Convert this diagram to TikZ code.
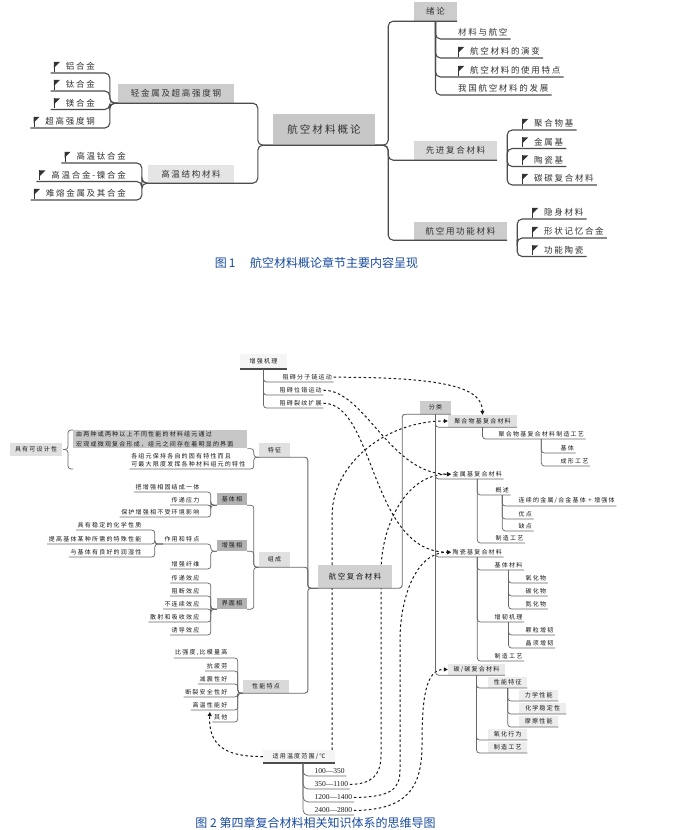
\documentclass[tikz,border=0pt]{standalone}
\usepackage{fontspec}
\setmainfont{Liberation Serif}
\newfontfamily\cjk[LetterSpace=20]{Noto Sans CJK SC}
\newfontfamily\cjkplain{Noto Sans CJK SC}
\usetikzlibrary{arrows.meta,backgrounds}
\definecolor{capblue}{RGB}{25,75,160}

\tikzset{
  flagged/.style={execute at begin node={\hspace*{12pt}},
    path picture={
      \fill[black!80] ([xshift=3pt,yshift=-2pt]path picture bounding box.north west) -- ++(6pt,0) -- ++(-6pt,-6pt) -- cycle;
      \draw[black!80, line width=1pt] ([xshift=3.5pt,yshift=-2pt]path picture bounding box.north west) -- ++(0,-10pt);
    }},
  darkfoot/.style={path picture={
      \draw[black!70, line width=3pt] (path picture bounding box.south west) -- (path picture bounding box.south east);
    }},
}

\begin{document}
\begin{tikzpicture}[x=1pt, y=-1pt,
  lineA/.style={draw=black!70, line width=1.1pt, rounded corners=5pt},
  lineB/.style={draw=black!60, line width=0.7pt, rounded corners=3pt},
  boxA/.style={fill=black!20, text=black!80, inner sep=0pt, font=\cjk\fontsize{8.5}{10}\selectfont},
  leafA/.style={text=black!80, inner xsep=3pt, inner ysep=2.5pt, font=\cjk\fontsize{8.5}{10}\selectfont},
  boxB/.style={fill=black!12, text=black!90, inner sep=0pt, font=\cjk\fontsize{6}{7}\selectfont},
  leafB/.style={text=black!90, inner xsep=1.5pt, inner ysep=1.8pt, font=\cjk\fontsize{6}{7}\selectfont},
  boxC/.style={fill=black!7, text=black!90, anchor=south west, minimum height=11pt, inner sep=0pt, font=\cjk\fontsize{6}{7}\selectfont},
  leafT/.style={text=black!90, inner xsep=1.5pt, inner ysep=1.8pt, font=\fontsize{7.5}{8}\selectfont},
  dashB/.style={black!90, line width=1pt, dash pattern=on 2.5pt off 2.5pt},
  tipB/.style={-{Triangle[length=4pt,width=4pt]}},
]
\useasboundingbox (0,0) rectangle (676,830);
\begin{scope}[on background layer]
\fill[white] (0,0) rectangle (676,830);
\end{scope}

% ---------- figure 1 ----------
\node[boxA, fill=black!22, minimum width=102pt, minimum height=31pt, font=\cjk\fontsize{10.5}{12}\selectfont] (hk) at (324,129.5) {航空材料概论};
\node[boxA, fill=black!20, minimum width=116pt, minimum height=19pt] (qj) at (176,93.5) {轻金属及超高强度钢};
\node[boxA, fill=black!10, minimum width=86pt, minimum height=18pt] (gw) at (191,174) {高温结构材料};
\node[boxA, fill=black!20, minimum width=43pt, minimum height=19pt] (xl) at (435.5,11.5) {绪论};
\node[boxA, fill=black!15, minimum width=83pt, minimum height=19pt] (xj) at (455.5,150.5) {先进复合材料};
\node[boxA, fill=black!20, minimum width=93pt, minimum height=18pt] (hy) at (460.5,231) {航空用功能材料};

\node[leafA, flagged, anchor=south east] (q1) at (98,73) {铝合金};
\node[leafA, flagged, anchor=south east] (q2) at (98,91) {钛合金};
\node[leafA, flagged, anchor=south east] (q3) at (98,109.5) {镁合金};
\node[leafA, flagged, anchor=south east] (q4) at (98,128) {超高强度钢};
\node[leafA, flagged, anchor=south east] (g1) at (129,163) {高温钛合金};
\node[leafA, flagged, anchor=south east] (g2) at (129,181.5) {高温合金-镍合金};
\node[leafA, flagged, anchor=south east] (g3) at (129,200) {难熔金属及其合金};

\node[leafA, anchor=south west] (xl1) at (455,39) {材料与航空};
\node[leafA, flagged, anchor=south west] (xl2) at (455,58) {航空材料的演变};
\node[leafA, flagged, anchor=south west] (xl3) at (455,77) {航空材料的使用特点};
\node[leafA, anchor=south west] (xl4) at (455,95) {我国航空材料的发展};
\node[leafA, flagged, anchor=south west] (xj1) at (519,130) {聚合物基};
\node[leafA, flagged, anchor=south west] (xj2) at (519,148.5) {金属基};
\node[leafA, flagged, anchor=south west] (xj3) at (519,166.5) {陶瓷基};
\node[leafA, flagged, anchor=south west] (xj4) at (519,185) {碳碳复合材料};
\node[leafA, flagged, anchor=south west] (hy1) at (529,219) {隐身材料};
\node[leafA, flagged, anchor=south west] (hy2) at (529,238) {形状记忆合金};
\node[leafA, flagged, anchor=south west] (hy3) at (529,256.5) {功能陶瓷};

\draw[lineA] (qj.south west) -- (qj.south east) -| ([xshift=-15pt]hk.south west) -- (hk.south west);
\draw[lineA] (gw.south west) -- (gw.south east) -| ([xshift=-15pt]hk.south west) -- (hk.south west);
\draw[lineA] (hk.south west) -- (hk.south east) -- ++(13pt,0) |- (xl.south east);
\draw[lineA] (hk.south east) -- ++(13pt,0) |- (xj.south east);
\draw[lineA] (hk.south east) -- ++(13pt,0) |- (hy.south east);
\foreach \c in {q1,q2,q3,q4}
  \draw[lineA] (qj.south west) -- ++(-8pt,0) |- (\c.south west);
\foreach \c in {g1,g2,g3}
  \draw[lineA] (gw.south west) -- ++(-6pt,0) |- (\c.south west);
\foreach \c in {xl1,xl2,xl3,xl4}
  \draw[lineA] (xl.south) |- (\c.south east);
\foreach \c in {xj1,xj2,xj3,xj4}
  \draw[lineA] ([xshift=10pt]xj.south east) |- (\c.south east);
\foreach \c in {hy1,hy2,hy3}
  \draw[lineA] ([xshift=10pt]hy.south east) |- (\c.south east);

\node[text=capblue, font=\cjkplain\fontsize{12}{14}\selectfont] (cap1) at (316.5,263) {图\,1\quad\ 航空材料概论章节主要内容呈现};

% ---------- figure 2 ----------
\node[boxB, fill=black!18, minimum width=74pt, minimum height=23pt, font=\cjk\fontsize{7.5}{9}\selectfont] (hf) at (355,576.5) {航空复合材料};
\node[boxB, fill=black!4, darkfoot, minimum width=47pt, minimum height=15pt] (zq) at (263.5,361.5) {增强机理};
\node[boxB, fill=black!20, minimum width=31pt, minimum height=13pt] (fl) at (435.5,407.5) {分类};
\node[boxB, minimum width=31pt, minimum height=14pt] (tz) at (274.5,450) {特征};
\node[boxB, minimum width=31pt, minimum height=15pt] (zc) at (274.5,559.5) {组成};
\node[boxB, fill=black!15, minimum width=46pt, minimum height=13pt] (xn) at (266,686.5) {性能特点};
\node[boxB, fill=black!4, darkfoot, minimum width=72pt, minimum height=13pt] (wd) at (299,756.5) {适用温度范围/℃};

% enhancement mechanism
\node[leafB, anchor=south west] (zq1) at (281,382) {阻碍分子链运动};
\node[leafB, anchor=south west] (zq2) at (278,395) {阻碍位错运动};
\node[leafB, anchor=south west] (zq3) at (278,408) {阻碍裂纹扩展};
\foreach \c in {zq1,zq2,zq3}
  \draw[lineB] (zq.south) |- (\c.south east);

% classification
\node[boxB, minimum width=69pt, minimum height=12pt] (jh) at (482.5,421) {聚合物基复合材料};
\node[leafB, anchor=south west] (jh1) at (497,439) {聚合物基复合材料制造工艺};
\node[leafB, anchor=south west] (jh11) at (559,453) {基体};
\node[leafB, anchor=south west] (jh12) at (559,466) {成形工艺};
\node[leafB, anchor=south west] (js) at (451,479) {金属基复合材料};
\node[leafB, anchor=south west] (js1) at (494,495) {概述};
\node[leafB, anchor=south west] (js11) at (517,506) {连续的金属/合金基体 + 增强体};
\node[leafB, anchor=south west] (js12) at (517,519) {优点};
\node[leafB, anchor=south west] (js13) at (517,531) {缺点};
\node[leafB, anchor=south west] (js2) at (494,543) {制造工艺};
\node[leafB, anchor=south west] (tc) at (451,557) {陶瓷基复合材料};
\node[leafB, anchor=south west] (tc1) at (493,570) {基体材料};
\node[leafB, anchor=south west] (tc11) at (524,583) {氧化物};
\node[leafB, anchor=south west] (tc12) at (524,596) {碳化物};
\node[leafB, anchor=south west] (tc13) at (524,609) {氮化物};
\node[leafB, anchor=south west] (tc2) at (493,622) {增韧机理};
\node[leafB, anchor=south west] (tc21) at (524,635) {颗粒增韧};
\node[leafB, anchor=south west] (tc22) at (524,648) {晶须增韧};
\node[leafB, anchor=south west] (tc3) at (493,661) {制造工艺};
\node[boxB, fill=black!9, minimum width=57pt, minimum height=11pt] (cc) at (476.5,669.5) {碳/碳复合材料};
\node[boxC, minimum width=39pt] (cc1) at (488,688) {性能特征};
\node[boxC, minimum width=39pt] (cc11) at (519,701) {力学性能};
\node[boxC, minimum width=47pt] (cc12) at (519,714) {化学稳定性};
\node[boxC, minimum width=39pt] (cc13) at (519,727) {摩擦性能};
\node[boxC, minimum width=39pt] (cc2) at (488,740) {氧化行为};
\node[boxC, minimum width=39pt] (cc3) at (488,753) {制造工艺};

\draw[black!45, line width=1.6pt] (fl.south) -- ([yshift=3pt]fl.south |- cc.south);
\foreach \c in {jh,js,tc,cc}
  \draw[lineB] (fl.south) |- (\c.south east);
\draw[lineB] (jh.south) |- (jh1.south east);
\foreach \c in {jh11,jh12}
  \draw[lineB] (jh1.south) |- (\c.south east);
\foreach \c in {js1,js2}
  \draw[lineB] (js.south) |- (\c.south east);
\foreach \c in {js11,js12,js13}
  \draw[lineB] (js1.south) |- (\c.south east);
\foreach \c in {tc1,tc2,tc3}
  \draw[lineB] (tc.south) |- (\c.south east);
\foreach \c in {tc11,tc12,tc13}
  \draw[lineB] (tc1.south) |- (\c.south east);
\foreach \c in {tc21,tc22}
  \draw[lineB] (tc2.south) |- (\c.south east);
\foreach \c in {cc1,cc2,cc3}
  \draw[lineB] (cc.south) |- (\c.south east);
\foreach \c in {cc11,cc12,cc13}
  \draw[lineB] (cc1.south) |- (\c.south east);

% features
\node[boxB, minimum width=52pt, minimum height=13pt] (jy) at (36,449.5) {具有可设计性};
\node[boxB, fill=black!22, anchor=north west, text width=168pt, align=left, inner xsep=3pt, inner ysep=1.5pt, font=\cjk\fontsize{6}{9.5}\selectfont] (tz1) at (73,430) {由两种或两种以上不同性能的材料组元通过\\宏观或微观复合形成，组元之间存在着明显的界面};
\node[leafB, anchor=south east, align=left, font=\cjk\fontsize{6}{8}\selectfont] (tz2) at (247,469) {各组元保持各自的固有特性而且\\可最大限度发挥各种材料组元的特性};
\draw[lineB] (tz.south west) -- ++(-5pt,0) |- (tz1.south east);
\draw[lineB] (tz.south west) -- ++(-5pt,0) |- (tz2.south west);
\draw[lineB] (tz1.north west) -- ++(-5pt,0) |- ([xshift=1pt]jy.east);
\draw[lineB] (tz1.west |- tz2.south) -- ++(-5pt,0) |- ([xshift=1pt]jy.east);

% composition
\node[boxB, fill=black!30, minimum width=30pt, minimum height=12pt] (jt) at (232,499) {基体相};
\node[boxB, fill=black!30, minimum width=30pt, minimum height=11pt] (zt) at (232,545.5) {增强相};
\node[boxB, fill=black!30, minimum width=30pt, minimum height=11pt] (jm) at (232,603.5) {界面相};
\node[leafB, anchor=south east] (jt1) at (201,492) {把增强相固结成一体};
\node[leafB, anchor=south east] (jt2) at (201,505) {传递应力};
\node[leafB, anchor=south east] (jt3) at (201,517) {保护增强相不受环境影响};
\node[leafB, anchor=south east] (zt1) at (201,544) {作用和特点};
\node[leafB, anchor=south east] (zt2) at (201,569) {增强纤维};
\node[leafB, anchor=south east] (z11) at (143,530) {具有稳定的化学性质};
\node[leafB, anchor=south east] (z12) at (143,544) {提高基体某种所需的特殊性能};
\node[leafB, anchor=south east] (z13) at (143,557) {与基体有良好的润湿性};
\node[leafB, anchor=south east] (jm1) at (201,583) {传递效应};
\node[leafB, anchor=south east] (jm2) at (201,596) {阻断效应};
\node[leafB, anchor=south east] (jm3) at (201,609) {不连续效应};
\node[leafB, anchor=south east] (jm4) at (201,622) {散射和吸收效应};
\node[leafB, anchor=south east] (jm5) at (201,635) {诱导效应};
\foreach \c in {jt,zt,jm}
  \draw[lineB] (zc.south west) -- ++(-5pt,0) |- (\c.south east);
\foreach \c in {jt1,jt2,jt3}
  \draw[lineB] (jt.south west) -- ++(-6pt,0) |- (\c.south west);
\foreach \c in {zt1,zt2}
  \draw[lineB] (zt.south west) -- ++(-6pt,0) |- (\c.south west);
\foreach \c in {z11,z12,z13}
  \draw[lineB] (zt1.south west) -- ++(-8pt,0) |- (\c.south west);
\foreach \c in {jm1,jm2,jm3,jm4,jm5}
  \draw[lineB] (jm.south west) -- ++(-6pt,0) |- (\c.south west);

% performance
\node[leafB, anchor=south east] (xn1) at (229,658) {比强度,比模量高};
\node[leafB, anchor=south east] (xn2) at (229,671) {抗疲劳};
\node[leafB, anchor=south east] (xn3) at (229,684) {减震性好};
\node[leafB, anchor=south east] (xn4) at (229,697) {断裂安全性好};
\node[leafB, anchor=south east] (xn5) at (229,710) {高温性能好};
\node[leafB, anchor=south east] (xn6) at (229,722) {其他};
\foreach \c in {xn1,xn2,xn3,xn4,xn5,xn6}
  \draw[lineB] (xn.south west) -- ++(-5pt,0) |- (\c.south west);

% temperature
\node[leafT, anchor=south west] (t1) at (313,776) {100—350};
\node[leafT, anchor=south west] (t2) at (313,789) {350—1100};
\node[leafT, anchor=south west] (t3) at (313,802) {1200—1400};
\node[leafT, anchor=south west] (t4) at (313,815) {2400—2800};
\foreach \c in {t1,t2,t3,t4}
  \draw[lineB, rounded corners=5pt] ([xshift=4pt]wd.south) |- (\c.south east);

% main frame
\draw[lineB, line width=0.9pt] (hf.south west) -- ++(-10pt,0) |- (tz.south west);
\draw[lineB, line width=0.9pt] (hf.south west) -- ++(-10pt,0) |- (zc.south west);
\draw[lineB, line width=0.9pt] (hf.south west) -- ++(-10pt,0) |- (xn.south west);
\draw[lineB, line width=0.9pt] (hf.south west) -- (hf.south east) -- ++(10pt,0) |- (fl.south east);

% dashed links
\begin{scope}[on background layer]
\draw[dashB, tipB] (zq1.east) .. controls (455,377) and (482,390) .. (jh.north);
\draw[dashB, tipB] (zq2.east) .. controls (365,390) and (390,474) .. (js.west);
\draw[dashB, tipB] (zq3.east) .. controls (375,403) and (370,552) .. (tc.west);
\draw[dashB, tipB] ([xshift=-3pt]wd.north east) -- ++(0,235pt) .. controls (332,465) and (385,421) .. (jh.west);
\draw[dashB, tipB] (t2.east) .. controls (372,784) and (381,775) .. (381,755) -- (381,572) .. controls (381,527) and (405,474) .. (js.west);
\draw[dashB, tipB] (t3.east) .. controls (390,797) and (400,790) .. (400,770) -- (400,640) .. controls (400,600) and (415,552) .. (tc.west);
\draw[dashB, tipB] (t4.east) .. controls (405,810) and (422,790) .. (422,745) .. controls (422,700) and (425,669) .. (cc.west);
\draw[dashB, tipB] (wd.west) .. controls (225,757) and (208,745) .. ([yshift=-2pt]xn5.south);
\end{scope}

\node[text=capblue, font=\cjkplain\fontsize{12}{14}\selectfont] (cap2) at (315.5,823) {图\ 2\ 第四章复合材料相关知识体系的思维导图};
\end{tikzpicture}
\end{document}
